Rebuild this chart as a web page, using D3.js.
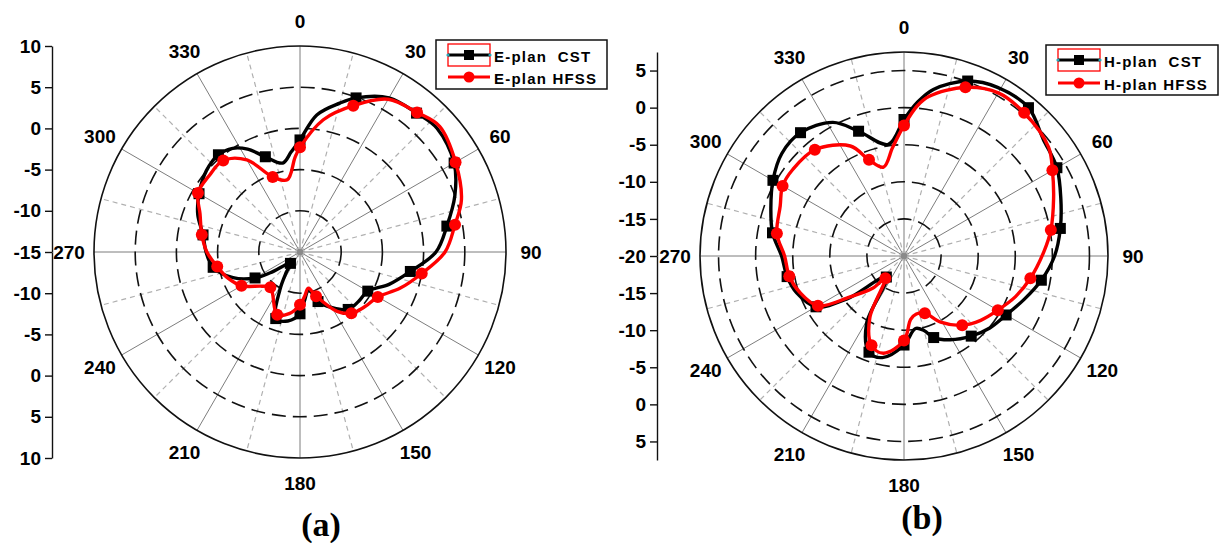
<!DOCTYPE html>
<html>
<head>
<meta charset="utf-8">
<script src="https://cdn.jsdelivr.net/npm/d3@7"></script>
<style>
  html, body { margin: 0; padding: 0; background: #fff; }
  svg { display: block; }
  text { font-family: "Liberation Sans", Arial, sans-serif; font-weight: bold; }
  text.tag { font-family: "Liberation Serif", "Times New Roman", serif; }
</style>
</head>
<body>
<svg id="chart" width="1220" height="543"></svg>
<script>
// angle labels every 30 degrees
const angleLabels = d3.range(0, 360, 30);

// radial tick labels (dB)
const eTicks = [-15, -10, -5, 0, 5, 10];
const hTicks = [-20, -15, -10, -5, 0, 5];

// [angle, dB]; markers sit on the multiples of 20 deg
const eCST = [
  [0, -1.4], [7, 1.75], [15, 3.7], [20, 4.9], [30, 6.6], [40, 7.0], [48, 7.4],
  [60, 6.6], [70, 5.0], [80, 3.1], [90, 1.5], [100, -1.4], [110, -3.5],
  [120, -5.5], [130, -5.7], [140, -5.9], [150, -7.2], [160, -8.6], [167, -10.3],
  [175, -9.0], [180, -7.5], [190, -6.5], [200, -6.4], [208, -9.8], [214, -12.0],
  [220, -13.2], [235, -10.6], [240, -8.7], [249, -6.3], [260, -4.3], [270, -3.6],
  [280, -3.05], [290, -1.8], [300, -0.85], [311, 0.05], [320, 0.4], [327, 0.0],
  [333, -1.0], [340, -2.7], [349, -4.0], [355, -2.8]
];
const eHFSS = [
  [0, -2.3], [10, 1.3], [20, 3.9], [30, 6.4], [40, 7.1], [48, 7.8], [60, 6.8],
  [72, 5.6], [80, 4.1], [90, 2.6], [100, 0.0], [110, -2.1], [120, -4.1],
  [130, -4.7], [140, -5.3], [148, -6.5], [160, -9.3], [167, -10.5], [174, -9.6],
  [180, -8.6], [190, -7.4], [200, -6.9], [220, -9.4], [228, -8.8], [240, -6.8],
  [250, -5.7], [260, -4.8], [270, -3.7], [280, -2.9], [291, -2.0], [300, -0.7],
  [310, -0.6], [320, -0.5], [330, -2.1], [340, -5.3], [350, -6.1], [357, -3.5]
];
const hCST = [
  [0, -1.6], [5, 0.8], [10, 2.8], [20, 5.1], [29, 6.0], [40, 6.1], [50, 4.5],
  [60, 3.8], [70, 2.5], [80, 1.4], [90, 0.3], [100, -1.2], [110, -2.8],
  [120, -4.1], [130, -4.9], [140, -5.9], [151, -7.1], [160, -8.3], [165, -9.6],
  [171, -10.1], [180, -8.0], [192, -6.0], [200, -6.2], [209, -9.6], [220, -16.3],
  [233, -10.4], [240, -6.3], [251, -4.7], [260, -4.0], [270, -3.5], [280, -2.0],
  [290, -0.9], [300, 0.4], [310, 1.5], [320, 1.7], [332, 0.4], [340, -2.1],
  [352, -4.8]
];
const hHFSS = [
  [0, -2.4], [5, 0.3], [9, 1.8], [20, 4.2], [30, 5.4], [40, 5.2], [53, 4.4],
  [60, 3.1], [69, 1.6], [80, 0.1], [88, -1.1], [100, -2.7], [110, -4.0],
  [120, -5.4], [130, -6.5], [140, -7.8], [151, -9.8], [160, -11.8], [168, -12.0],
  [174, -11.4], [180, -8.6], [192, -6.6], [200, -7.2], [209, -10.5], [220, -16.1],
  [224, -14.0], [233, -10.8], [240, -6.6], [251, -5.1], [260, -4.3], [270, -3.9],
  [280, -2.6], [292, -2.0], [300, -1.1], [308, -1.0], [320, -1.3], [334, -3.5],
  [340, -6.2], [347, -7.7], [354, -5.3]
];

const legendE = ["E-plan  CST", "E-plan HFSS"];
const legendH = ["H-plan  CST", "H-plan HFSS"];

const panels = [
  {
    cx: 300, cy: 252, R: 206, min: -15, max: 10, axisX: 52,
    ticks: eTicks, cst: eCST, hfss: eHFSS, legend: legendE,
    box: [436, 40, 171, 49], tag: "(a)", tagX: 321, tagY: 536
  },
  {
    cx: 904, cy: 256, R: 204, min: -20, max: 7.5, axisX: 657,
    ticks: hTicks, cst: hCST, hfss: hHFSS, legend: legendH,
    box: [1046, 45, 172, 50], tag: "(b)", tagX: 922, tagY: 529
  }
];

const svg = d3.select("#chart");
const rad = (deg) => (deg * Math.PI) / 180;

function drawPanel(p) {
  const r = d3.scaleLinear().domain([p.min, p.max]).range([0, p.R]);
  const g = svg.append("g").attr("transform", `translate(${p.cx},${p.cy})`);

  // spokes: solid every 30, dashed in between
  g.selectAll("line.spoke")
    .data(d3.range(0, 360, 15))
    .join("line")
    .attr("class", "spoke")
    .attr("x1", 0)
    .attr("y1", 0)
    .attr("x2", (a) => d3.pointRadial(rad(a), p.R)[0])
    .attr("y2", (a) => d3.pointRadial(rad(a), p.R)[1])
    .attr("stroke", (a) => (a % 30 === 0 ? "#7d7d7d" : "#b0b0b0"))
    .attr("stroke-width", (a) => (a % 30 === 0 ? 1 : 1.2))
    .attr("stroke-dasharray", (a) => (a % 30 === 0 ? null : "5,4"));

  // dashed rings at the ticks, solid outer ring
  g.selectAll("circle.ring")
    .data(p.ticks.filter((v) => v > p.min && v < p.max))
    .join("circle")
    .attr("class", "ring")
    .attr("r", (v) => r(v))
    .attr("fill", "none")
    .attr("stroke", "#111")
    .attr("stroke-width", 1.6)
    .attr("stroke-dasharray", "14,7");

  g.append("circle")
    .attr("r", p.R)
    .attr("fill", "none")
    .attr("stroke", "#111")
    .attr("stroke-width", 1.6);

  g.append("circle").attr("r", 3).attr("fill", "#8a8a8a");

  // angle labels
  g.selectAll("text.ang")
    .data(angleLabels)
    .join("text")
    .attr("class", "ang")
    .attr("x", (a) => d3.pointRadial(rad(a), p.R + 25)[0])
    .attr("y", (a) => d3.pointRadial(rad(a), p.R + 25)[1])
    .attr("text-anchor", "middle")
    .attr("dominant-baseline", "central")
    .attr("font-size", 19)
    .text((a) => a);

  // mirrored radial axis on the left
  const upper = d3.scaleLinear().domain([p.min, p.max]).range([p.cy, p.cy - p.R]);
  const lower = d3.scaleLinear().domain([p.min, p.max]).range([p.cy, p.cy + p.R]);
  const minor = d3.range(p.min, p.max + 0.01, 2.5);

  [upper, lower].forEach((scale, i) => {
    const ax = svg.append("g").attr("transform", `translate(${p.axisX},0)`);
    ax.call(
      d3.axisLeft(scale)
        .tickValues(minor)
        .tickSize(4)
        .tickSizeOuter(0)
        .tickFormat("")
    );
    ax.call(
      d3.axisLeft(scale)
        .tickValues(i === 0 ? p.ticks : p.ticks.filter((v) => v !== p.min))
        .tickSize(7)
        .tickSizeOuter(0)
        .tickPadding(4)
        .tickFormat((d) => String(d))
    );
    ax.selectAll("path, line").attr("stroke", "#111").attr("stroke-width", 1.4);
    ax.selectAll("text")
      .attr("font-size", 19)
      .attr("fill", "#000");
  });

  // series
  const line = d3.lineRadial()
    .angle((d) => rad(d[0]))
    .radius((d) => r(d[1]))
    .curve(d3.curveCatmullRomClosed.alpha(0.5));

  const series = [
    { data: p.cst, color: "#000", shape: "square" },
    { data: p.hfss, color: "#ff0000", shape: "circle" }
  ];

  series.forEach((s) => {
    g.append("path")
      .attr("d", line(s.data))
      .attr("fill", "none")
      .attr("stroke", s.color)
      .attr("stroke-width", 3.4)
      .attr("stroke-linejoin", "round");

    const marks = s.data.filter((d) => d[0] % 20 === 0);
    const pos = (d) => d3.pointRadial(rad(d[0]), r(d[1]));
    if (s.shape === "square") {
      g.selectAll(null)
        .data(marks)
        .join("rect")
        .attr("x", (d) => pos(d)[0] - 5.5)
        .attr("y", (d) => pos(d)[1] - 5.5)
        .attr("width", 11)
        .attr("height", 11)
        .attr("fill", s.color);
    } else {
      g.selectAll(null)
        .data(marks)
        .join("circle")
        .attr("cx", (d) => pos(d)[0])
        .attr("cy", (d) => pos(d)[1])
        .attr("r", 6)
        .attr("fill", s.color);
    }
  });

  // legend
  const [bx, by, bw, bh] = p.box;
  const lg = svg.append("g").attr("transform", `translate(${bx},${by})`);
  lg.append("rect")
    .attr("width", bw)
    .attr("height", bh)
    .attr("fill", "#fff")
    .attr("stroke", "#111")
    .attr("stroke-width", 1.5);

  const rows = [15, bh - 12];
  const sx0 = 12, sx1 = 54, smid = 33;

  lg.append("rect")
    .attr("x", sx0)
    .attr("y", rows[0] - 11)
    .attr("width", sx1 - sx0)
    .attr("height", 22)
    .attr("fill", "none")
    .attr("stroke", "#ff0000")
    .attr("stroke-width", 1.3);

  lg.append("line")
    .attr("x1", sx0).attr("x2", sx1)
    .attr("y1", rows[0]).attr("y2", rows[0])
    .attr("stroke", "#000").attr("stroke-width", 3);
  lg.selectAll(null)
    .data([sx0, sx1])
    .join("circle")
    .attr("cx", (d) => d)
    .attr("cy", rows[0])
    .attr("r", 1.6)
    .attr("fill", "#2aa6b8");
  lg.append("rect")
    .attr("x", smid - 5).attr("y", rows[0] - 5)
    .attr("width", 10).attr("height", 10)
    .attr("fill", "#000");

  lg.append("line")
    .attr("x1", sx0).attr("x2", sx1)
    .attr("y1", rows[1]).attr("y2", rows[1])
    .attr("stroke", "#ff0000").attr("stroke-width", 3);
  lg.append("circle")
    .attr("cx", smid).attr("cy", rows[1]).attr("r", 5.5)
    .attr("fill", "#ff0000");

  lg.selectAll("text")
    .data(p.legend)
    .join("text")
    .attr("x", sx1 + 4)
    .attr("y", (d, i) => rows[i] + 1)
    .attr("dominant-baseline", "central")
    .attr("font-size", 15)
    .attr("letter-spacing", 1.2)
    .style("white-space", "pre")
    .text((d) => d);

  // panel tag
  svg.append("text")
    .attr("class", "tag")
    .attr("x", p.tagX)
    .attr("y", p.tagY)
    .attr("text-anchor", "middle")
    .attr("font-size", 34)
    .text(p.tag);
}

panels.forEach(drawPanel);
</script>
</body>
</html>
